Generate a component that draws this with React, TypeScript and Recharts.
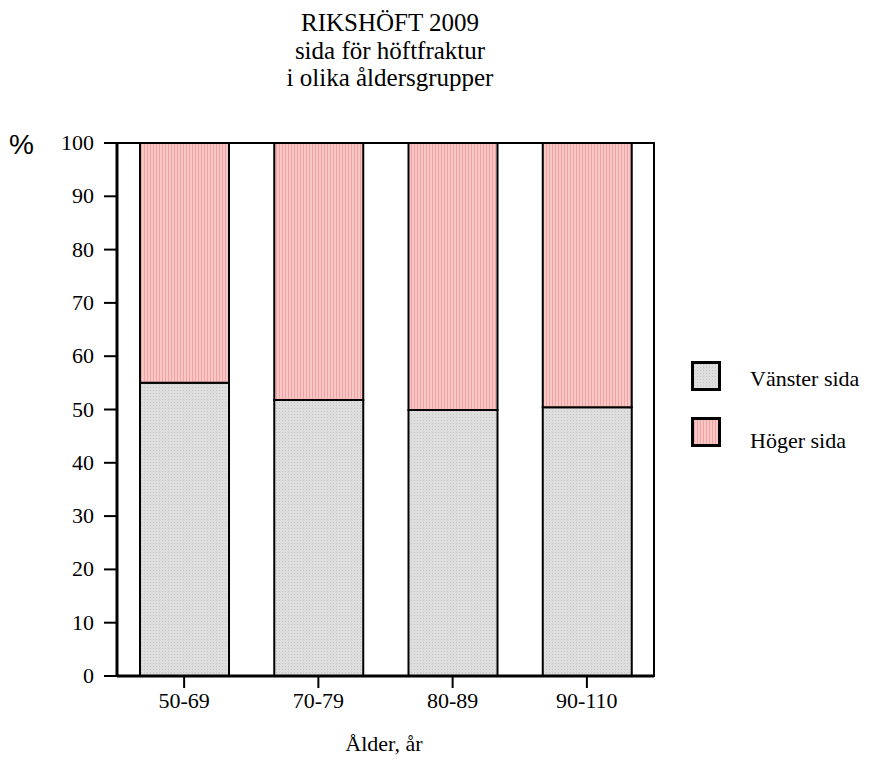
import React from 'react'
import { BarChart, Bar, XAxis, YAxis, ReferenceArea } from 'recharts'

const categories = ['50-69', '70-79', '80-89', '90-110']
const vanster = [55, 51.8, 49.9, 50.4]
const hoger = [45, 48.2, 50.1, 49.6]
const yTicks = [0, 10, 20, 30, 40, 50, 60, 70, 80, 90, 100]

const data = categories.map((c, i) => ({ group: c, vanster: vanster[i], hoger: hoger[i] }))

const SERIF = '"Liberation Serif", "Times New Roman", serif'

const Swatch = ({ fill }: { fill: string }) => (
  <svg width={30} height={30} style={{ display: 'block' }}>
    <rect x={1.5} y={1.5} width={27} height={27} fill={fill} stroke="#000" strokeWidth={3} />
  </svg>
)

const XTick = ({ x, y, payload }: any) => (
  <text x={x} y={y} dy={18} textAnchor="middle" fontSize={22} fill="#000" style={{ fontFamily: SERIF }}>
    {payload.value}
  </text>
)

const YTick = ({ x, y, payload }: any) => (
  <text x={x} y={y} dy={7} textAnchor="end" fontSize={22} fill="#000" style={{ fontFamily: SERIF }}>
    {payload.value}
  </text>
)

export default function App() {
  return (
    <div style={{ position: 'absolute', left: 0, top: 0, width: 872, height: 765, background: '#fff', fontFamily: SERIF }}>
      <svg width={0} height={0} style={{ position: 'absolute' }}>
        <defs>
          <pattern id="greyDots" width={3} height={3} patternUnits="userSpaceOnUse">
            <rect width={3} height={3} fill="#dedede" />
            <rect width={1} height={1} fill="#c4c4c4" />
          </pattern>
          <pattern id="pinkLines" width={3} height={3} patternUnits="userSpaceOnUse">
            <rect width={3} height={3} fill="#f9c6c6" />
            <rect width={1} height={3} fill="#f0a5a5" />
          </pattern>
        </defs>
      </svg>

      <div style={{ position: 'absolute', left: 190, top: 9, width: 400, textAlign: 'center', fontSize: 25, lineHeight: '27.5px', color: '#000' }}>
        <div>RIKSHÖFT 2009</div>
        <div>sida för höftfraktur</div>
        <div>i olika åldersgrupper</div>
      </div>
      <div style={{ position: 'absolute', left: 9, top: 129, fontSize: 28, fontFamily: '"Liberation Sans", Arial, sans-serif' }}>%</div>

      <BarChart
        width={872}
        height={765}
        data={data}
        margin={{ top: 143, right: 218, left: 57, bottom: 59 }}
        barSize={89}
      >
        <defs>
          <pattern id="greyDots2" width={3} height={3} patternUnits="userSpaceOnUse">
            <rect width={3} height={3} fill="#dedede" />
            <rect width={1} height={1} fill="#c4c4c4" />
          </pattern>
          <pattern id="pinkLines2" width={3} height={3} patternUnits="userSpaceOnUse">
            <rect width={3} height={3} fill="#f9c6c6" />
            <rect width={1} height={3} fill="#f0a5a5" />
          </pattern>
        </defs>
        <ReferenceArea y1={0} y2={100} fill="none" stroke="#000" strokeWidth={2} ifOverflow="visible" />
        <XAxis
          dataKey="group"
          axisLine={{ stroke: '#000', strokeWidth: 3 }}
          tickLine={{ stroke: '#000', strokeWidth: 2 }}
          tickSize={12}
          tickMargin={2}
          height={30}
          tick={<XTick />}
        />
        <YAxis
          domain={[0, 100]}
          ticks={yTicks}
          interval={0}
          width={60}
          axisLine={{ stroke: '#000', strokeWidth: 3 }}
          tickLine={{ stroke: '#000', strokeWidth: 2 }}
          tickSize={13}
          tickMargin={10}
          tick={<YTick />}
        />
        <Bar dataKey="vanster" stackId="a" fill="url(#greyDots2)" stroke="#000" strokeWidth={2} isAnimationActive={false} />
        <Bar dataKey="hoger" stackId="a" fill="url(#pinkLines2)" stroke="#000" strokeWidth={2} isAnimationActive={false} />
      </BarChart>

      <div style={{ position: 'absolute', left: 691, top: 361 }}>
        <Swatch fill="url(#greyDots)" />
      </div>
      <div style={{ position: 'absolute', left: 750, top: 366, fontSize: 22 }}>Vänster sida</div>
      <div style={{ position: 'absolute', left: 691, top: 417 }}>
        <Swatch fill="url(#pinkLines)" />
      </div>
      <div style={{ position: 'absolute', left: 750, top: 428, fontSize: 22 }}>Höger sida</div>

      <div style={{ position: 'absolute', left: 284, top: 731, width: 200, textAlign: 'center', fontSize: 22 }}>Ålder, år</div>
    </div>
  )
}
